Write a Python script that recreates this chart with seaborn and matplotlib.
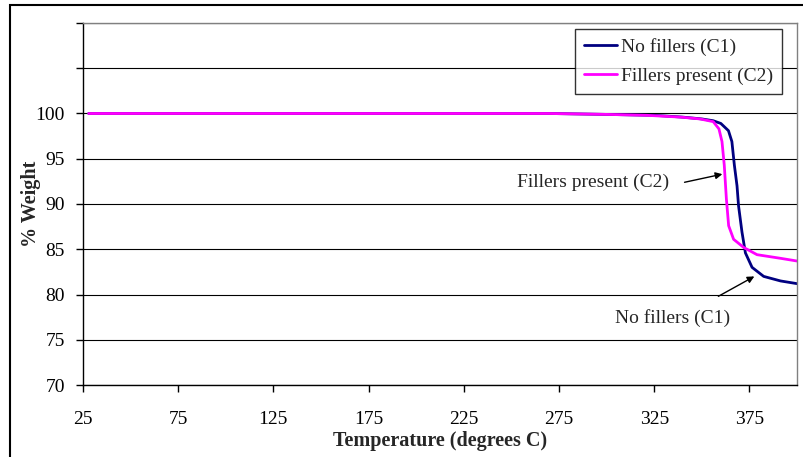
import matplotlib
matplotlib.use("Agg")
import matplotlib.pyplot as plt
import seaborn as sns
import pandas as pd
from matplotlib.patches import Rectangle

# Data
c1_temp = [28, 100, 200, 270, 300, 325, 340, 350, 356, 360, 364, 365.8, 367.1,
           368.5, 369.3, 371.1, 372.9, 376.4, 382.5, 391.3, 400]
c1_weight = [100, 100, 100, 100, 99.9, 99.8, 99.6, 99.4, 99.2, 98.9, 98.1, 96.9, 94.3,
             92.0, 89.8, 86.9, 84.6, 83.0, 82.0, 81.5, 81.2]
c2_temp = [28, 100, 200, 270, 300, 321, 339, 349, 356, 359, 360.6, 361.8, 362.9,
           364.1, 366.7, 372, 379, 391.3, 400]
c2_weight = [100, 100, 100, 100, 99.9, 99.8, 99.6, 99.4, 99.1, 98.3, 96.9, 94.3, 90.6,
             87.6, 86.1, 85.2, 84.4, 84.0, 83.7]
series_names = ["No fillers (C1)", "Fillers present (C2)"]
x_ticks = [25, 75, 125, 175, 225, 275, 325, 375]
y_ticks = [70, 75, 80, 85, 90, 95, 100]

df = pd.concat([
    pd.DataFrame({"Temperature": c1_temp, "Weight": c1_weight, "Series": series_names[0]}),
    pd.DataFrame({"Temperature": c2_temp, "Weight": c2_weight, "Series": series_names[1]}),
], ignore_index=True)

sns.set_style("white")
plt.rcParams["font.family"] = ["Liberation Serif", "DejaVu Serif"]

FS = 14
fig = plt.figure(figsize=(8.04, 4.57), dpi=100)
ax = fig.add_axes([83/804, 1-385/457, (797-83)/804, (385-23)/457])

sns.lineplot(data=df, x="Temperature", y="Weight", hue="Series", sort=False,
             palette={series_names[0]: "#000080", series_names[1]: "#FF00FF"},
             linewidth=2.0, ax=ax, estimator=None)

ax.set_xlim(25, 400)
ax.set_ylim(70, 110)
ax.set_xticks(x_ticks)
ax.set_xticklabels([str(t) for t in x_ticks])
all_y = list(range(70, 111, 5))
ax.set_yticks(all_y)
ax.set_yticklabels([str(t) if t in y_ticks else "" for t in all_y])
ax.yaxis.grid(True, color="#000000", linewidth=0.8)
ax.set_axisbelow(True)
ax.tick_params(axis="both", labelsize=FS, colors="black", direction="out", length=5, width=1)
ax.tick_params(axis="x", pad=14)
ax.tick_params(axis="y", pad=8)
ax.tick_params(bottom=True, left=True)

for s in ["left", "bottom"]:
    ax.spines[s].set_color("black")
    ax.spines[s].set_linewidth(1.0)
for s in ["top", "right"]:
    ax.spines[s].set_color("#808080")
    ax.spines[s].set_linewidth(1.0)

ax.set_xlabel("Temperature (degrees C)", fontsize=14.5, fontweight="bold", labelpad=2)
ax.set_ylabel("% Weight", fontsize=14.5, fontweight="bold", labelpad=-4)

leg = ax.legend(loc="upper right", bbox_to_anchor=(0.979, 0.983), borderaxespad=0,
                fontsize=FS, frameon=True, fancybox=False, handlelength=1.7,
                handletextpad=0.2, borderpad=0.45, labelspacing=0.6)
leg.get_frame().set_edgecolor("black")
leg.get_frame().set_linewidth(1.0)
leg.set_title(None)
for line in leg.get_lines():
    line.set_linewidth(2.0)

ax.annotate("Fillers present (C2)", xy=(360.8, 93.3), xytext=(293, 92.4),
            fontsize=FS, ha="center", va="center",
            arrowprops=dict(arrowstyle="-|>", color="black", lw=1.0,
                            mutation_scale=10, shrinkA=0, shrinkB=0,
                            relpos=(1.1, 0.5)))
ax.annotate("", xy=(377.6, 82.0), xytext=(358.7, 79.8),
            arrowprops=dict(arrowstyle="-|>", color="black", lw=1.0,
                            mutation_scale=10, shrinkA=0, shrinkB=0))
ax.text(334.8, 77.4, "No fillers (C1)", fontsize=FS, ha="center", va="center")

fig.patches.append(Rectangle((10/804, -0.1), 1.0, 1 - 5/457 + 0.1,
                             transform=fig.transFigure, fill=False,
                             edgecolor="black", linewidth=1.5))

fig.savefig("out.png", dpi=100)
